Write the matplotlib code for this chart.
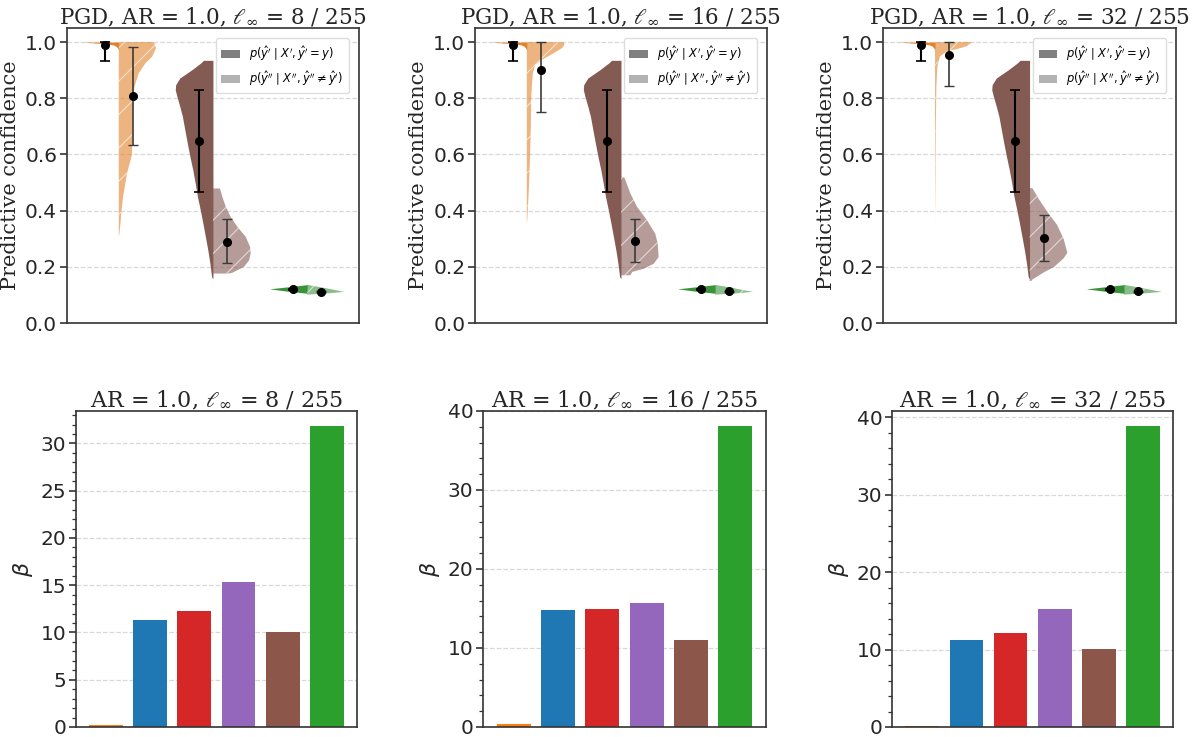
import numpy as np
import matplotlib
matplotlib.use('Agg')
import matplotlib.pyplot as plt
from matplotlib.patches import Patch
from matplotlib.ticker import MultipleLocator

# ---- data ----
eps_labels = ['8', '16', '32']
violin_dark = ['#e1832c', '#845b53', '#3a923a']

# clean halves (left), same in every panel: y values and relative density
orange_clean_y = [0.970, 0.975, 0.980, 0.985, 0.990, 0.995, 1.000]
orange_clean_d = [0.0, 0.01, 0.04, 0.07, 0.15, 0.45, 0.98]
brown_clean_y = [0.158, 0.164, 0.212, 0.259, 0.307, 0.354, 0.402, 0.449, 0.497, 0.545, 0.592,
                 0.640, 0.687, 0.735, 0.771, 0.806, 0.830, 0.848, 0.872, 0.901, 0.925, 0.935]
brown_clean_d = [0.0, 0.035, 0.08, 0.135, 0.2, 0.265, 0.335, 0.41, 0.47, 0.535, 0.61,
                 0.68, 0.745, 0.81, 0.88, 0.955, 1.0, 0.99, 0.88, 0.565, 0.33, 0.25]
green_clean_y = [0.106, 0.113, 0.1216, 0.129, 0.1366]
green_clean_d = [0.0, 0.5, 1.0, 0.5, 0.0]

# adversarial halves (right), one per panel
orange_adv_y = [
    [0.309, 0.319, 0.354, 0.398, 0.449, 0.485, 0.533, 0.568, 0.600, 0.687, 0.747, 0.800,
     0.842, 0.889, 0.925, 0.949, 0.979, 1.000],
    [0.349, 0.378, 0.425, 0.473, 0.532, 0.600, 0.651, 0.710, 0.794, 0.841, 0.889, 0.919,
     0.937, 0.960, 0.978, 0.990, 1.000],
    [0.354, 0.500, 0.675, 0.842, 0.913, 0.949, 0.967, 0.975, 0.985, 1.000],
]
orange_adv_d = [
    [0.0, 0.018, 0.045, 0.07, 0.115, 0.16, 0.22, 0.29, 0.35, 0.36, 0.365, 0.375,
     0.42, 0.53, 0.71, 0.89, 0.99, 0.93],
    [0.0, 0.018, 0.035, 0.053, 0.07, 0.088, 0.098, 0.108, 0.115, 0.133, 0.16, 0.22,
     0.40, 0.71, 0.93, 1.0, 0.975],
    [0.0, 0.01, 0.018, 0.035, 0.063, 0.13, 0.31, 0.575, 0.84, 0.975],
]
brown_adv_y = [
    [0.176, 0.178, 0.188, 0.200, 0.223, 0.247, 0.271, 0.307, 0.342, 0.378, 0.414, 0.449, 0.479],
    [0.170, 0.182, 0.193, 0.211, 0.235, 0.283, 0.318, 0.366, 0.414, 0.461, 0.518],
    [0.150, 0.155, 0.180, 0.200, 0.230, 0.250, 0.300, 0.350, 0.390, 0.440, 0.480],
]
brown_adv_d = [
    [0.375, 0.5, 0.65, 0.825, 0.96, 1.0, 0.985, 0.87, 0.65, 0.47, 0.34, 0.25, 0.185],
    [0.25, 0.3, 0.6, 0.87, 1.0, 0.975, 0.91, 0.69, 0.425, 0.25, 0.09],
    [0.05, 0.075, 0.375, 0.65, 0.9, 1.0, 0.9, 0.725, 0.5, 0.25, 0.075],
]
green_adv_y = [0.101, 0.105, 0.111, 0.117, 0.124, 0.130, 0.136]
green_adv_d = [0.0, 0.5, 1.0, 0.75, 0.5, 0.25, 0.0]

# means and error bounds (orange, brown, green)
clean_mean = [0.988, 0.648, 0.120]
clean_lo = [0.931, 0.465, 0.118]
clean_hi = [1.000, 0.831, 0.122]
adv_mean = [[0.807, 0.290, 0.112], [0.899, 0.293, 0.113], [0.955, 0.302, 0.113]]
adv_lo = [[0.634, 0.212, 0.110], [0.751, 0.218, 0.111], [0.844, 0.219, 0.111]]
adv_hi = [[0.981, 0.369, 0.114], [1.000, 0.369, 0.115], [1.000, 0.384, 0.115]]

# beta bars
bar_colors = ['tab:orange', 'tab:blue', 'tab:red', 'tab:purple', 'tab:brown', 'tab:green']
beta = [
    [0.25, 11.3, 12.25, 15.35, 10.07, 31.85],
    [0.42, 14.85, 14.9, 15.75, 11.05, 38.1],
    [0.17, 11.25, 12.2, 15.3, 10.05, 38.9],
]

# ---- style ----
plt.rcParams['hatch.linewidth'] = 0.8
plt.rcParams['font.family'] = 'DejaVu Sans'
spine_col = '#333333'
grid_kw = dict(ls='--', color='#d8d8d8', lw=0.9)

fig = plt.figure(figsize=(11.98, 7.37), dpi=100)

top_pos = [[0.0559, 0.5617, 0.2437, 0.4003],
           [0.3965, 0.5617, 0.2437, 0.4003],
           [0.7371, 0.5617, 0.2446, 0.4003]]
bot_pos = [[0.0634, 0.0136, 0.2346, 0.4288],
           [0.4032, 0.0136, 0.2362, 0.4288],
           [0.7446, 0.0136, 0.2346, 0.4288]]


def style_axes(ax):
    for s in ax.spines.values():
        s.set_color(spine_col)
        s.set_linewidth(1.2)
    ax.set_xticks([])
    ax.tick_params(axis='y', which='major', direction='out', length=5, width=1.2,
                   color=spine_col, labelsize=14.5, labelcolor='#262626', pad=2)
    ax.tick_params(axis='y', which='minor', direction='out', length=3, width=0.9,
                   color=spine_col)
    ax.yaxis.grid(True, **grid_kw)
    ax.set_axisbelow(True)


half = 0.4
off = 0.15
for i in range(3):
    ax = fig.add_axes(top_pos[i])
    style_axes(ax)
    clean_y = [orange_clean_y, brown_clean_y, green_clean_y]
    clean_d = [orange_clean_d, brown_clean_d, green_clean_d]
    adv_y = [orange_adv_y[i], brown_adv_y[i], green_adv_y]
    adv_d = [orange_adv_d[i], brown_adv_d[i], green_adv_d]
    for c in range(3):
        y = np.array(clean_y[c])
        d = np.array(clean_d[c])
        ax.fill_betweenx(y, c - half * d, c, color=violin_dark[c], lw=0, zorder=2)
        y = np.array(adv_y[c])
        d = np.array(adv_d[c])
        ax.fill_betweenx(y, c, c + half * d, facecolor=violin_dark[c], alpha=0.6,
                         hatch='/', edgecolor='white', lw=0, zorder=2)
        m = clean_mean[c]
        ax.errorbar(c - off, m, yerr=[[m - clean_lo[c]], [clean_hi[c] - m]], fmt='o',
                    color='black', ms=5.5, capsize=3.5, elinewidth=1.5, capthick=1.2, zorder=4)
        m = adv_mean[i][c]
        ax.errorbar(c + off, m, yerr=[[m - adv_lo[i][c]], [adv_hi[i][c] - m]], fmt='none',
                    ecolor='#3a3a3a', capsize=3.5, elinewidth=1.2, capthick=1.0, zorder=4)
        ax.plot(c + off, m, 'o', color='black', ms=5.5, zorder=5)
    ax.set_xlim(-0.55, 2.55)
    ax.set_ylim(0, 1.05)
    ax.set_yticks([0.0, 0.2, 0.4, 0.6, 0.8, 1.0])
    ax.set_title(r'PGD, AR = 1.0, $\ell_\infty$ = ' + eps_labels[i] + ' / 255',
                 family='DejaVu Serif', math_fontfamily='dejavuserif', fontsize=15.5,
                 color='#262626', pad=3)
    ax.set_ylabel('Predictive confidence', family='DejaVu Serif', fontsize=15,
                  color='#262626', labelpad=4)
    handles = [Patch(facecolor='#7f7f7f', edgecolor='none'),
               Patch(facecolor='#b3b3b3', edgecolor='none')]
    labels = [r"$p(\hat{y}' \mid X', \hat{y}' = y)$",
              r"$p(\hat{y}'' \mid X'', \hat{y}'' \neq \hat{y}')$"]
    ax.legend(handles, labels, loc='upper right', fontsize=8.3, frameon=True,
              edgecolor='#dddddd', framealpha=1, handlelength=1.6, borderpad=0.5,
              bbox_to_anchor=(0.985, 0.985))

for i in range(3):
    ax = fig.add_axes(bot_pos[i])
    style_axes(ax)
    x = np.arange(len(beta[i]))
    ax.bar(x, beta[i], width=0.77, color=bar_colors, edgecolor='none', zorder=2)
    ax.set_xlim(-0.69, 5.69)
    if i == 0:
        ax.yaxis.set_major_locator(MultipleLocator(5))
        ax.yaxis.set_minor_locator(MultipleLocator(1))
    else:
        ax.yaxis.set_major_locator(MultipleLocator(10))
        ax.yaxis.set_minor_locator(MultipleLocator(2))
    ax.set_title(r'AR = 1.0, $\ell_\infty$ = ' + eps_labels[i] + ' / 255',
                 family='DejaVu Serif', math_fontfamily='dejavuserif', fontsize=16,
                 color='#262626', pad=3)
    ax.set_ylabel(r'$\beta$', fontsize=16, color='#262626', labelpad=4)

fig.savefig('out.png', dpi=100)
